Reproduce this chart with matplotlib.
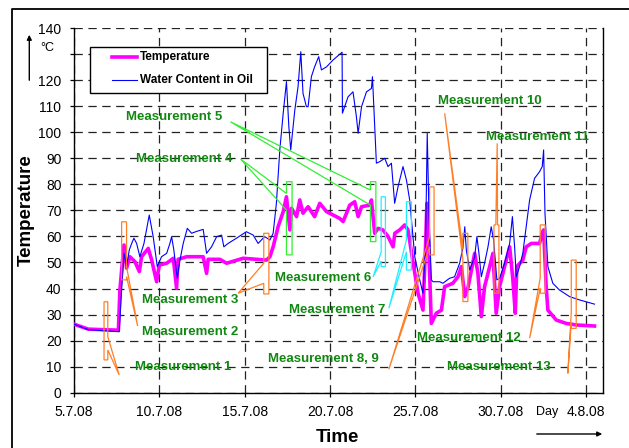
import matplotlib
matplotlib.use('Agg')
import matplotlib.pyplot as plt
from matplotlib.patches import Polygon, Rectangle
from matplotlib.lines import Line2D

plt.rcParams['font.family'] = ['Liberation Sans', 'DejaVu Sans']
plt.rcParams['lines.scale_dashes'] = False

# ---- data (day offset from 5.7.08) ----
temp_day = [0.0, 0.84, 2.6, 2.69, 2.79, 2.93, 3.08, 3.28, 3.57, 3.83, 3.96, 4.35, 4.55, 4.84,
            5.0, 5.43, 5.82, 6.01, 6.1, 6.6, 7.57, 7.77, 7.86, 8.55, 8.94, 9.91, 10.7, 11.28,
            11.48, 11.67, 11.96, 12.26, 12.45, 12.65, 12.75, 13.04, 13.23, 13.42, 13.72, 14.1,
            14.4, 14.8, 15.57, 15.77, 16.16, 16.45, 16.65, 16.85, 17.33, 17.43, 17.62, 17.82,
            18.1, 18.4, 18.7, 18.8, 19.09, 19.38, 19.57, 19.87, 20.16, 20.45, 20.6, 20.68,
            20.8, 20.94, 21.23, 21.53, 21.72, 22.2, 22.5, 22.7, 22.9, 23.1, 23.48, 23.67,
            23.87, 24.06, 24.36, 24.55, 24.74, 24.94, 25.23, 25.53, 25.72, 25.86, 25.95, 26.3,
            26.5, 26.8, 27.28, 27.44, 27.52, 27.67, 27.77, 28.26, 28.84, 29.43, 30.5]
temp_val = [26.3, 24.4, 24.0, 39.4, 47.0, 56.7, 47.8, 52.2, 50.3, 46.5, 52.2, 55.4, 51.0, 42.6,
            49.0, 49.7, 51.6, 40.1, 51.2, 52.2, 52.2, 45.8, 51.2, 51.2, 49.7, 51.6, 51.2, 50.9,
            52.2, 56.0, 63.7, 69.5, 75.2, 62.5, 70.8, 67.6, 74.0, 68.9, 71.4, 67.6,
            72.7, 69.5, 66.9, 65.7, 72.0, 73.3, 67.6, 71.4, 72.0, 74.0, 61.2, 63.1,
            62.5, 60.0, 56.0, 61.2, 62.5, 64.4, 62.5, 50.0, 38.2, 31.7, 56.0, 72.7,
            53.5, 26.6, 30.5, 31.7, 40.7, 42.0, 44.5, 48.4, 36.9, 40.7, 53.5, 45.8,
            29.2, 40.7, 48.4, 53.5, 30.5, 40.7, 48.4, 56.0, 43.3, 30.5, 48.4, 50.9,
            56.0, 57.3, 57.3, 61.2, 62.5, 40.7, 31.7, 27.9, 26.6, 26.0, 25.6]

water_day = [0.0, 0.84, 2.6, 2.65, 2.79, 2.93, 3.08, 3.24, 3.38, 3.51, 3.67, 3.86, 4.1, 4.41,
             4.64, 4.88, 5.13, 5.43, 5.62, 5.72, 5.85, 6.05, 6.21, 6.4, 6.64, 6.89, 7.18, 7.57,
             7.77, 8.06, 8.36, 8.65, 8.78, 9.03, 9.52, 10.1, 10.5, 10.79, 11.08, 11.18, 11.48,
             11.67, 11.86, 12.06, 12.26, 12.45, 12.59, 12.7, 12.94, 13.13, 13.29, 13.42, 13.62,
             13.72, 13.91, 14.1, 14.34, 14.5, 14.8, 15.18, 15.71, 15.73, 16.06, 16.35, 16.55,
             16.65, 16.85, 17.14, 17.43, 17.49, 17.62, 17.72, 17.92, 18.21, 18.4, 18.6, 18.79,
             18.99, 19.28, 19.48, 19.67, 19.97, 20.26, 20.45, 20.6, 20.7, 20.8, 20.94, 21.04,
             21.43, 21.62, 22.0, 22.3, 22.6, 22.8, 22.9, 22.99, 23.19, 23.48, 23.61, 23.73,
             23.87, 24.06, 24.26, 24.45, 24.59, 24.78, 24.94, 25.23, 25.53, 25.69, 25.82, 25.92,
             26.11, 26.3, 26.5, 26.7, 26.99, 27.28, 27.44, 27.52, 27.6, 27.77, 28.06, 28.45,
             29.04, 29.63, 30.5]
water_val = [26.3, 24.2, 23.4, 23.4, 39.4, 53.5, 48.4, 54.8, 57.3, 59.3, 57.3, 52.2, 57.3, 68.2,
             59.9, 48.4, 52.2, 53.5, 57.3, 59.9, 54.8, 43.9, 50.9, 57.3, 63.1, 61.2, 61.9, 62.7,
             53.5, 56.0, 59.9, 60.5, 56.0, 57.3, 59.3, 61.8, 60.5, 57.3, 59.3, 59.9, 58.6,
             61.2, 72.7, 93.2, 107.3, 119.4, 102.1, 93.2, 108.5, 117.5, 130.9, 114.9, 109.8,
             109.8, 121.3, 125.1, 129.0, 123.9, 125.1, 127.7, 130.7, 107.3, 113.6, 115.5, 105.9,
             99.6, 109.8, 115.5, 116.8, 121.3, 102.1, 88.1, 88.7, 90.0, 86.8, 88.1, 72.7,
             79.1, 86.8, 81.7, 74.0, 52.2, 43.3, 38.2, 56.0, 99.6, 68.9, 43.3, 42.6,
             42.6, 42.0, 43.9, 44.5, 49.7, 56.0, 63.7, 54.8, 47.1, 52.2, 59.9, 53.5,
             44.5, 49.7, 56.0, 63.7, 58.6, 43.3, 43.9, 49.7, 57.3, 67.6, 56.0, 44.5,
             48.4, 53.5, 63.7, 74.0, 82.3, 84.8, 86.8, 93.2, 68.9, 48.4, 42.0, 39.4,
             36.9, 35.6, 34.0]

tick_days = [0, 5, 10, 15, 20, 25, 30]
tick_labels = ['5.7.08', '10.7.08', '15.7.08', '20.7.08', '25.7.08', '30.7.08', '4.8.08']
y_ticks = list(range(0, 141, 10))
y_labels = ['' if v == 130 else str(v) for v in y_ticks]

# measurement callouts: label, label pos, box (x0, x1, y0, y1), wedge side, wedge base, tip
ORANGE = '#FF7F27'
LIME = '#33EE33'
CYAN = '#22EEFF'
measurements = [
    ('Measurement 1', (6.38, 9.9), (1.76, 1.98, 12.6, 34.9), 'right', (16.4, 21.5), (2.65, 6.8), ORANGE),
    ('Measurement 2', (6.79, 23.3), (2.79, 3.08, 43.3, 65.6), 'right', (44.5, 48.4), (3.73, 25.6), ORANGE),
    ('Measurement 3', (6.79, 35.6), (11.12, 11.42, 37.9, 61.2), 'left', (42.0, 49.7), (9.62, 38.2), ORANGE),
    ('Measurement 4', (6.44, 89.7), (12.45, 12.78, 52.9, 81.0), 'left', (70.1, 76.5), (9.76, 89.7), LIME),
    ('Measurement 5', (5.85, 105.8), (17.37, 17.69, 58.0, 81.0), 'left', (72.0, 77.8), (9.17, 104.0), LIME),
    ('Measurement 6', (14.58, 44.0), (18.0, 18.25, 48.4, 75.2), 'left', (50.5, 54.0), (17.53, 44.5), CYAN),
    ('Measurement 7', (15.4, 31.7), (19.48, 19.77, 47.1, 73.3), 'left', (54.1, 58.6), (18.45, 32.4), CYAN),
    ('Measurement 8, 9', (14.64, 12.9), (20.84, 21.1, 52.9, 79.0), 'left', (56.0, 59.9), (18.45, 9.0), ORANGE),
    ('Measurement 10', (24.36, 112.0), (22.79, 23.08, 35.0, 61.2), 'left', (51.0, 55.0), (21.72, 107.3), ORANGE),
    ('Measurement 11', (27.17, 98.2), (24.61, 24.9, 38.2, 64.4), 'top', (24.72, 24.82), (24.8, 95.7), ORANGE),
    ('Measurement 12', (23.13, 21.0), (27.32, 27.61, 38.2, 64.4), 'left', (40.0, 44.0), (26.7, 20.9), ORANGE),
    ('Measurement 13', (24.88, 9.9), (29.14, 29.43, 24.7, 50.9), 'left', (27.0, 31.0), (28.94, 7.4), ORANGE),
]


def callout(ax, box, side, base, tip, color):
    x0, x1, y0, y1 = box
    b0, b1 = base
    if side == 'left':
        pts = [(x0, y0), (x1, y0), (x1, y1), (x0, y1), (x0, b1), tip, (x0, b0)]
    elif side == 'right':
        pts = [(x0, y0), (x1, y0), (x1, b0), tip, (x1, b1), (x1, y1), (x0, y1)]
    else:
        pts = [(x0, y0), (x1, y0), (x1, y1), (b1, y1), tip, (b0, y1), (x0, y1)]
    ax.add_patch(Polygon(pts, closed=True, fill=False, edgecolor=color, lw=0.9, zorder=5))


W, H = 629, 448
fig = plt.figure(figsize=(W / 100, H / 100), dpi=100)
ax = fig.add_axes([74 / W, 1 - 392.7 / H, (603 - 74) / W, (392.7 - 28) / H])

ax.plot(temp_day, temp_val, color='#FF00FF', lw=2.6, zorder=3, solid_joinstyle='round')
ax.plot(water_day, water_val, color='#0000FF', lw=0.8, zorder=4)

for label, lpos, box, side, base, tip, color in measurements:
    callout(ax, box, side, base, tip, color)
    ax.text(lpos[0], lpos[1], label, color='#118811', fontsize=9.5, fontweight='bold',
            ha='center', va='center', zorder=6)

ax.set_xlim(0, 31)
ax.set_ylim(0, 140)
ax.set_xticks(tick_days)
ax.set_xticklabels(tick_labels)
ax.set_yticks(y_ticks)
ax.set_yticklabels(y_labels)
ax.tick_params(axis='both', labelsize=10, direction='out', length=3, width=0.9)
ax.tick_params(axis='x', pad=6)
ax.tick_params(axis='y', pad=6)
ax.grid(True, color='#222222', lw=0.9, linestyle=(0, (6, 4)))
ax.spines['top'].set_visible(False)
for s in ['left', 'bottom', 'right']:
    ax.spines[s].set_linewidth(1.0)

# axis titles and decorations
fig.text(26 / W, 1 - 210 / H, 'Temperature', rotation=90, fontsize=13.5, fontweight='bold',
         ha='center', va='center')
fig.text(337 / W, 1 - 437 / H, 'Time', fontsize=13.5, fontweight='bold', ha='center', va='center')
fig.text(47.5 / W, 1 - 48 / H, '°C', fontsize=9, ha='center', va='center')
fig.text(546.7 / W, 1 - 411.7 / H, 'Day', fontsize=9, ha='center', va='center')
fig.add_artist(matplotlib.patches.FancyArrowPatch((534 / W, 1 - 434 / H), (605 / W, 1 - 434 / H),
               transform=fig.transFigure, arrowstyle='-|>', mutation_scale=7, lw=1.0, color='black'))
fig.add_artist(matplotlib.patches.FancyArrowPatch((29.3 / W, 1 - 83 / H), (29.3 / W, 1 - 32 / H),
               transform=fig.transFigure, arrowstyle='-|>', mutation_scale=7, lw=1.0, color='black'))

# outer frame
fig.add_artist(Line2D([11.7 / W, 11.7 / W, 1], [0, 1 - 9 / H, 1 - 9 / H], transform=fig.transFigure,
                      color='black', lw=1.3))

# legend box
fig.add_artist(Rectangle((90 / W, 1 - 93.3 / H), 176.7 / W, 46.6 / H, transform=fig.transFigure,
                         facecolor='white', edgecolor='black', lw=1.0, zorder=10))
fig.add_artist(Line2D([111.7 / W, 136.7 / W], [1 - 57.3 / H, 1 - 57.3 / H], transform=fig.transFigure,
                      color='#FF00FF', lw=2.6, zorder=11))
fig.add_artist(Line2D([111.7 / W, 136.7 / W], [1 - 80.3 / H, 1 - 80.3 / H], transform=fig.transFigure,
                      color='#0000FF', lw=0.8, zorder=11))
fig.text(140 / W, 1 - 57.3 / H, 'Temperature', fontsize=8.5, fontweight='bold', va='center', zorder=12)
fig.text(140 / W, 1 - 80.3 / H, 'Water Content in Oil', fontsize=8.5, fontweight='bold', va='center',
         zorder=12)

fig.savefig('out.png', dpi=100)
